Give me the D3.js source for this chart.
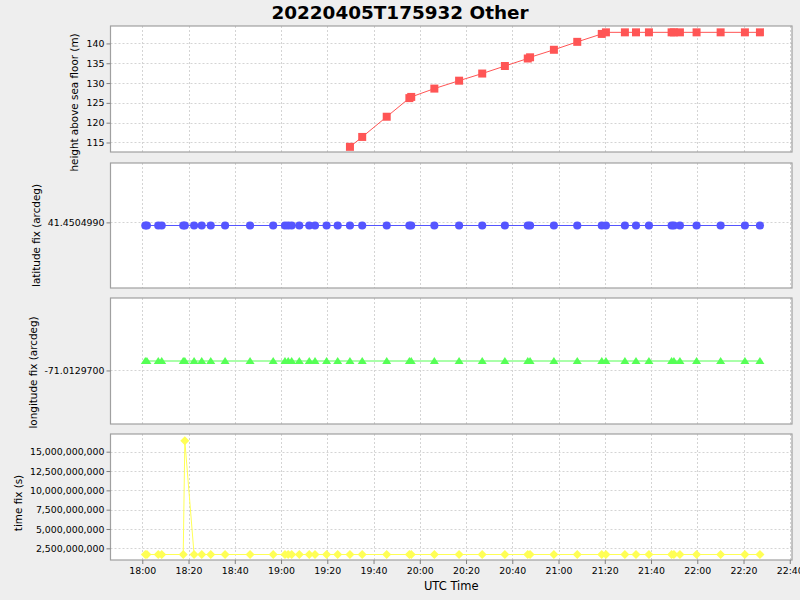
<!DOCTYPE html>
<html>
<head>
<meta charset="utf-8">
<script src="https://cdn.jsdelivr.net/npm/d3@7"></script>
<style>
  html, body { margin: 0; padding: 0; background: #eeeeee; }
  svg { display: block; }
  text { font-family: "DejaVu Sans", sans-serif; fill: #000; }
</style>
</head>
<body>
<svg id="chart" width="800" height="600"></svg>
<script>
// ---------- DATA ----------
const title = "20220405T175932 Other";
const xLabel = "UTC Time";
const times = [
  "18:01:18","18:02:00","18:06:54","18:08:24","18:17:42","18:18:24","18:22:24","18:25:42","18:29:36","18:35:48",
  "18:46:36","18:56:36","19:01:42","19:03:06","19:04:36","19:07:54","19:12:12","19:14:42","19:19:42","19:24:30",
  "19:29:48","19:35:06","19:45:42","19:55:30","19:56:18","20:06:18","20:17:00","20:27:00","20:36:48","20:46:42",
  "20:47:42","20:58:00","21:08:06","21:18:42","21:20:30","21:28:42","21:33:30","21:39:06","21:48:54","21:49:54",
  "21:52:30","21:59:42","22:10:06","22:20:36","22:27:06"
];
const height = [
  null,null,null,null,null,null,null,null,null,null,
  null,null,null,null,null,null,null,null,null,null,
  113.9,116.4,121.5,126.2,126.5,128.6,130.6,132.4,134.3,136.2,
  136.5,138.4,140.4,142.4,142.8,142.8,142.8,142.8,142.8,142.8,
  142.8,142.8,142.8,142.8,142.8
];
const latitude = [
  41.45049895,41.45049895,41.45049895,41.45049895,41.45049895,41.45049895,41.45049895,41.45049895,41.45049895,41.45049895,
  41.45049895,41.45049895,41.45049895,41.45049895,41.45049895,41.45049895,41.45049895,41.45049895,41.45049895,41.45049895,
  41.45049895,41.45049895,41.45049895,41.45049895,41.45049895,41.45049895,41.45049895,41.45049895,41.45049895,41.45049895,
  41.45049895,41.45049895,41.45049895,41.45049895,41.45049895,41.45049895,41.45049895,41.45049895,41.45049895,41.45049895,
  41.45049895,41.45049895,41.45049895,41.45049895,41.45049895
];
const longitude = [
  -71.01296985,-71.01296985,-71.01296985,-71.01296985,-71.01296985,-71.01296985,-71.01296985,-71.01296985,-71.01296985,-71.01296985,
  -71.01296985,-71.01296985,-71.01296985,-71.01296985,-71.01296985,-71.01296985,-71.01296985,-71.01296985,-71.01296985,-71.01296985,
  -71.01296985,-71.01296985,-71.01296985,-71.01296985,-71.01296985,-71.01296985,-71.01296985,-71.01296985,-71.01296985,-71.01296985,
  -71.01296985,-71.01296985,-71.01296985,-71.01296985,-71.01296985,-71.01296985,-71.01296985,-71.01296985,-71.01296985,-71.01296985,
  -71.01296985,-71.01296985,-71.01296985,-71.01296985,-71.01296985
];
const timeFix = [
  1.7e9,1.7e9,1.7e9,1.7e9,1.7e9,16.42e9,1.7e9,1.7e9,1.7e9,1.7e9,
  1.7e9,1.7e9,1.7e9,1.7e9,1.7e9,1.7e9,1.7e9,1.7e9,1.7e9,1.7e9,
  1.7e9,1.7e9,1.7e9,1.7e9,1.7e9,1.7e9,1.7e9,1.7e9,1.7e9,1.7e9,
  1.7e9,1.7e9,1.7e9,1.7e9,1.7e9,1.7e9,1.7e9,1.7e9,1.7e9,1.7e9,
  1.7e9,1.7e9,1.7e9,1.7e9,1.7e9
];
const xTickLabels = ["18:00","18:20","18:40","19:00","19:20","19:40","20:00","20:20","20:40","21:00","21:20","21:40","22:00","22:20","22:40"];
const heightTicks = [115,120,125,130,135,140];
const latTicks = [41.4504990];
const lonTicks = [-71.0129700];
const timeFixTicks = [2.5e9,5e9,7.5e9,10e9,12.5e9,15e9];

// ---------- LAYOUT ----------
const svg = d3.select("#chart");
const W = 800, H = 600;
const left = 110.5, right = 792;
const parse = d3.timeParse("%H:%M:%S");
const dates = times.map(parse);

const x = d3.scaleTime()
  .domain([parse("17:46:15"), parse("22:40:58")])
  .range([left, right]);
const xTickDates = xTickLabels.map(s => parse(s + ":00"));

const panels = [
  { top: 26, bottom: 152, values: height, domain: [112.6, 144.4], ticks: heightTicks,
    fmt: d => String(d), label: "height above sea floor (m)", lx: 74, ly: 102.5,
    color: "#ff5555", shape: "square" },
  { top: 163, bottom: 288, values: latitude, domain: [41.45049795, 41.45049995], ticks: latTicks,
    fmt: d => d.toFixed(7), label: "latitude fix (arcdeg)", lx: 36, ly: 235.5,
    color: "#5555ff", shape: "circle" },
  { top: 298, bottom: 424, values: longitude, domain: [-71.01297085, -71.01296885], ticks: lonTicks,
    fmt: d => d.toFixed(7), label: "longitude fix (arcdeg)", lx: 33, ly: 372.5,
    color: "#55ff55", shape: "triangle" },
  { top: 434, bottom: 560, values: timeFix, domain: [0.99e9, 17.29e9], ticks: timeFixTicks,
    fmt: d3.format(","), label: "time fix (s)", lx: 18, ly: 503,
    color: "#ffff55", shape: "diamond" }
];

const shapes = {
  square: "M-4,-4L4,-4L4,4L-4,4Z",
  circle: d3.symbol(d3.symbolCircle, 52)(),
  triangle: "M0,-4L4.5,3L-4.5,3Z",
  diamond: "M0,-4.5L4.5,0L0,4.5L-4.5,0Z"
};

// Title
svg.append("text")
  .attr("x", 400).attr("y", 19)
  .attr("text-anchor", "middle")
  .style("font-size", "18.4px").style("font-weight", "bold")
  .text(title);

panels.forEach(p => {
  const y = d3.scaleLinear().domain(p.domain).range([p.bottom, p.top]);
  const g = svg.append("g");

  // background
  g.append("rect")
    .attr("x", left).attr("y", p.top)
    .attr("width", right - left).attr("height", p.bottom - p.top)
    .attr("fill", "#ffffff");

  // grid
  g.selectAll("line.vg").data(xTickDates).enter().append("line")
    .attr("x1", d => Math.round(x(d)) + 0.5).attr("x2", d => Math.round(x(d)) + 0.5)
    .attr("y1", p.top).attr("y2", p.bottom)
    .attr("stroke", "#d4d4d4").attr("stroke-width", 1).attr("stroke-dasharray", "2,2");
  g.selectAll("line.hg").data(p.ticks).enter().append("line")
    .attr("x1", left).attr("x2", right)
    .attr("y1", d => Math.round(y(d)) + 0.5).attr("y2", d => Math.round(y(d)) + 0.5)
    .attr("stroke", "#d4d4d4").attr("stroke-width", 1).attr("stroke-dasharray", "2,2");

  // series line
  const line = d3.line()
    .defined((d, i) => p.values[i] !== null)
    .x((d, i) => x(dates[i]))
    .y((d, i) => y(p.values[i]));
  g.append("path")
    .datum(p.values)
    .attr("d", line)
    .attr("fill", "none")
    .attr("stroke", p.color)
    .attr("stroke-width", 1);

  // markers
  const pts = p.values.map((v, i) => ({ v, t: dates[i] })).filter(d => d.v !== null);
  g.selectAll("path.m").data(pts).enter().append("path")
    .attr("d", shapes[p.shape])
    .attr("transform", d => `translate(${x(d.t)},${y(d.v)})`)
    .attr("fill", p.color);

  // border
  g.append("rect")
    .attr("x", left).attr("y", p.top)
    .attr("width", right - left).attr("height", p.bottom - p.top)
    .attr("fill", "none").attr("stroke", "#a0a0a0").attr("stroke-width", 1.2);

  // y axis
  const yAxis = d3.axisLeft(y).tickValues(p.ticks).tickFormat(p.fmt).tickSize(4).tickPadding(2);
  const ya = svg.append("g").attr("transform", `translate(${left},0)`).call(yAxis);
  ya.select(".domain").remove();
  ya.selectAll(".tick line").attr("stroke", "#808080");
  ya.selectAll(".tick text").style("font-size", "9.4px").style("font-family", "DejaVu Sans, sans-serif");

  // y label
  svg.append("text")
    .attr("transform", `translate(${p.lx},${p.ly}) rotate(-90)`)
    .attr("text-anchor", "middle")
    .attr("dominant-baseline", "central")
    .style("font-size", "10.4px")
    .text(p.label);
});

// x axis
const xAxis = d3.axisBottom(x).tickValues(xTickDates)
  .tickFormat((d, i) => xTickLabels[i]).tickSize(4).tickPadding(3);
const xa = svg.append("g").attr("transform", `translate(0,560)`).call(xAxis);
xa.select(".domain").remove();
xa.selectAll(".tick line").attr("stroke", "#808080");
xa.selectAll(".tick text").style("font-size", "9.4px").style("font-family", "DejaVu Sans, sans-serif");

svg.append("text")
  .attr("x", (left + right) / 2).attr("y", 590)
  .attr("text-anchor", "middle")
  .style("font-size", "11.5px")
  .text(xLabel);
</script>
</body>
</html>
